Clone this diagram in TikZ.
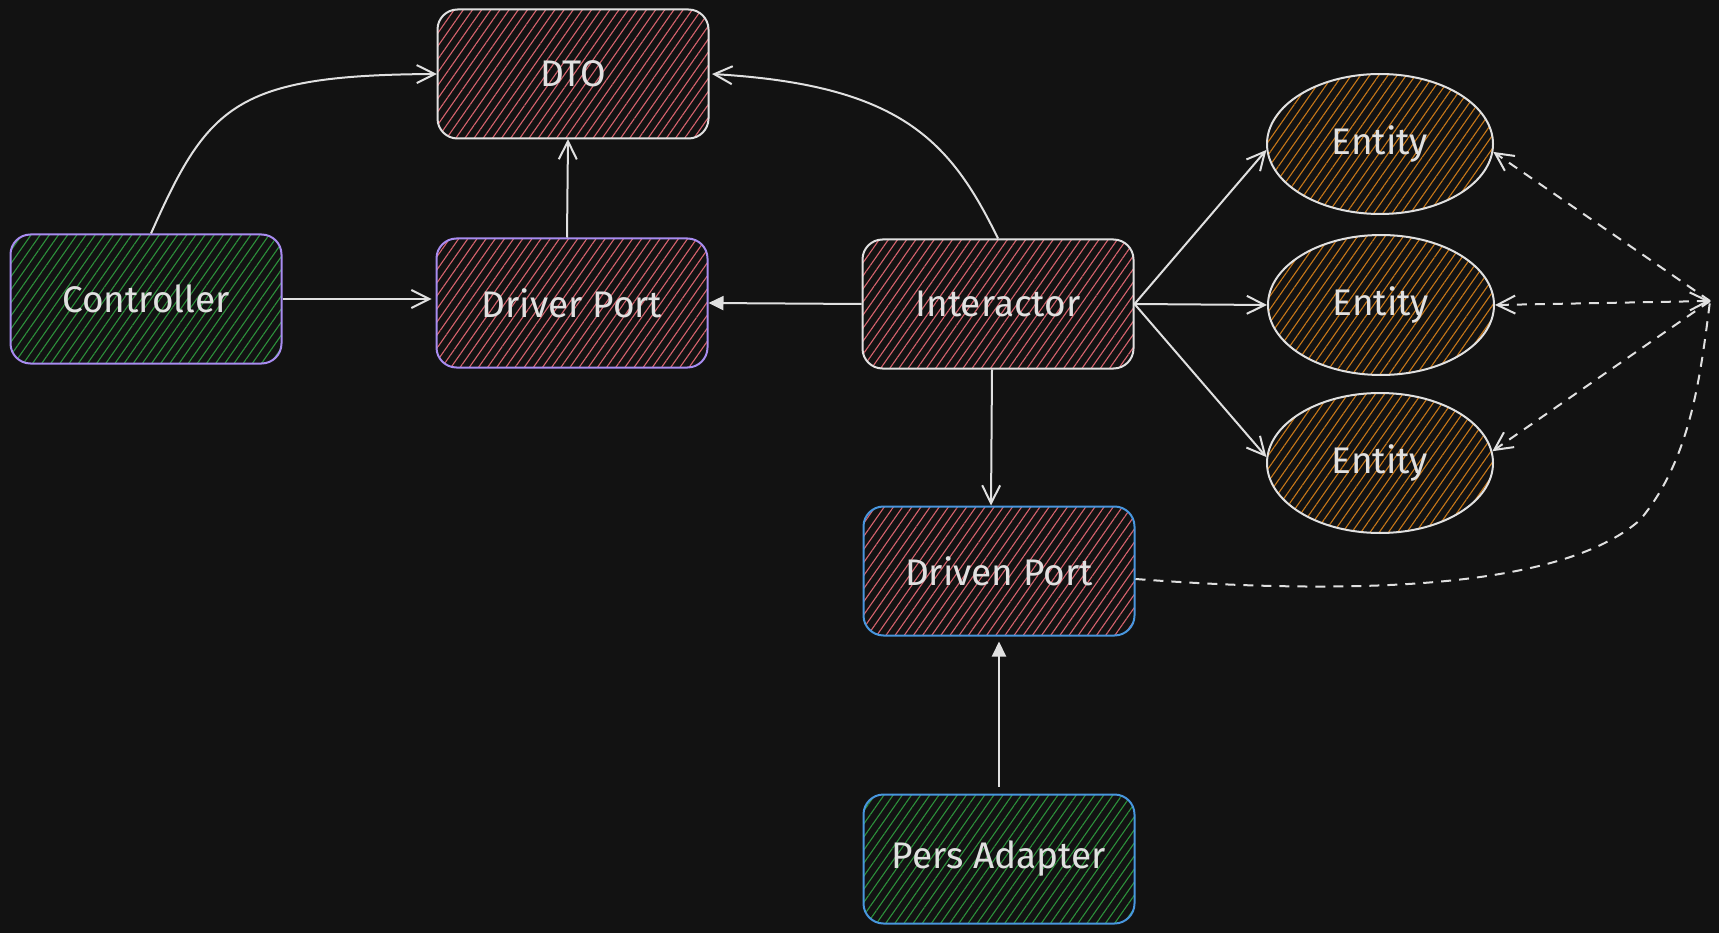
\documentclass[tikz,border=0pt]{standalone}
\usepackage{fontspec}
\setmainfont{Fira Sans}
\usetikzlibrary{arrows.meta,shapes.geometric,patterns.meta}
\definecolor{bgcol}{RGB}{18,18,18}
\definecolor{ink}{RGB}{224,224,224}
\definecolor{violetline}{RGB}{168,140,240}
\definecolor{blueline}{RGB}{72,150,222}
\definecolor{redhatch}{RGB}{215,100,110}
\definecolor{greenhatch}{RGB}{45,145,60}
\definecolor{orangehatch}{RGB}{200,120,25}

\begin{document}
\begin{tikzpicture}[x=1pt, y=-1pt,
  label font/.style={text=ink, font=\fontsize{37}{44}\selectfont},
  hatch/.style={pattern={Lines[angle=55,distance=7.5pt,line width=1.1pt]}, pattern color=#1},
  box/.style={rectangle, rounded corners=20pt, minimum width=271pt, minimum height=129pt,
    inner sep=0pt, line width=2pt, label font},
  ent/.style={ellipse, minimum width=226pt, minimum height=140pt, inner sep=0pt,
    line width=2pt, draw=ink, hatch=orangehatch, label font},
  link/.style={draw=ink, line width=2pt, -{Straight Barb[length=18pt,width=18pt]}},
  filledlink/.style={draw=ink, line width=2pt, -{Triangle[length=15pt,width=14pt]}},
  dashlink/.style={link, line width=2pt, dash pattern=on 10pt off 8pt}]

  \fill[bgcol] (0,0) rectangle (1719,933);

  \node[box, draw=ink, hatch=redhatch] (dto) at (573,74) {DTO};
  \node[box, draw=violetline, hatch=greenhatch] (ctrl) at (146,299) {Controller};
  \node[box, draw=violetline, hatch=redhatch] (drvport) at (572,303) {Driver Port};
  \node[box, draw=ink, hatch=redhatch] (inter) at (998,304) {Interactor};
  \node[box, draw=blueline, hatch=redhatch] (drnport) at (999,571) {Driven Port};
  \node[box, draw=blueline, hatch=greenhatch] (pers) at (999,859) {Pers Adapter};

  \node[ent] (ent1) at (1380,144) {Entity};
  \node[ent] (ent2) at (1381,305) {Entity};
  \node[ent] (ent3) at (1380,463) {Entity};

  \coordinate (hub) at (1710,301);

  \path[link] ([xshift=5pt]ctrl.north) .. controls (208,105) and (235,75) .. (dto.west);
  \path[link] (inter.north) .. controls (950,140) and (900,85) .. ([xshift=3pt]dto.east);
  \path[link] (ctrl.east) -- ([shift={(-4pt,4pt)}]drvport.west);
  \path[link] ([xshift=-5pt]drvport.north) -- ([xshift=-5pt]dto.south);
  \path[filledlink] (inter.west) -- (drvport.east);
  \path[link] ([xshift=-6pt]inter.south) -- ([xshift=-8pt]drnport.north);
  \path[filledlink, shorten <=7pt, shorten >=5pt] (pers.north) -- (drnport.south);

  \path[link] (inter.east) -- (ent1.-177);
  \path[link] (inter.east) -- (ent2.west);
  \path[link] (inter.east) -- (ent3.177);

  \path[dashlink, -] ([yshift=-8pt]drnport.east) .. controls (1350,595) and (1560,590) .. (1640,520)
    .. controls (1690,460) and (1700,380) .. (hub);
  \path[dashlink] (hub) -- (ent1.-4);
  \path[dashlink, {Straight Barb[length=18pt,width=18pt]}-{Straight Barb[length=18pt,width=18pt]}] (hub) -- (ent2.east);
  \path[dashlink] (hub) -- (ent3.6);
\end{tikzpicture}
\end{document}
